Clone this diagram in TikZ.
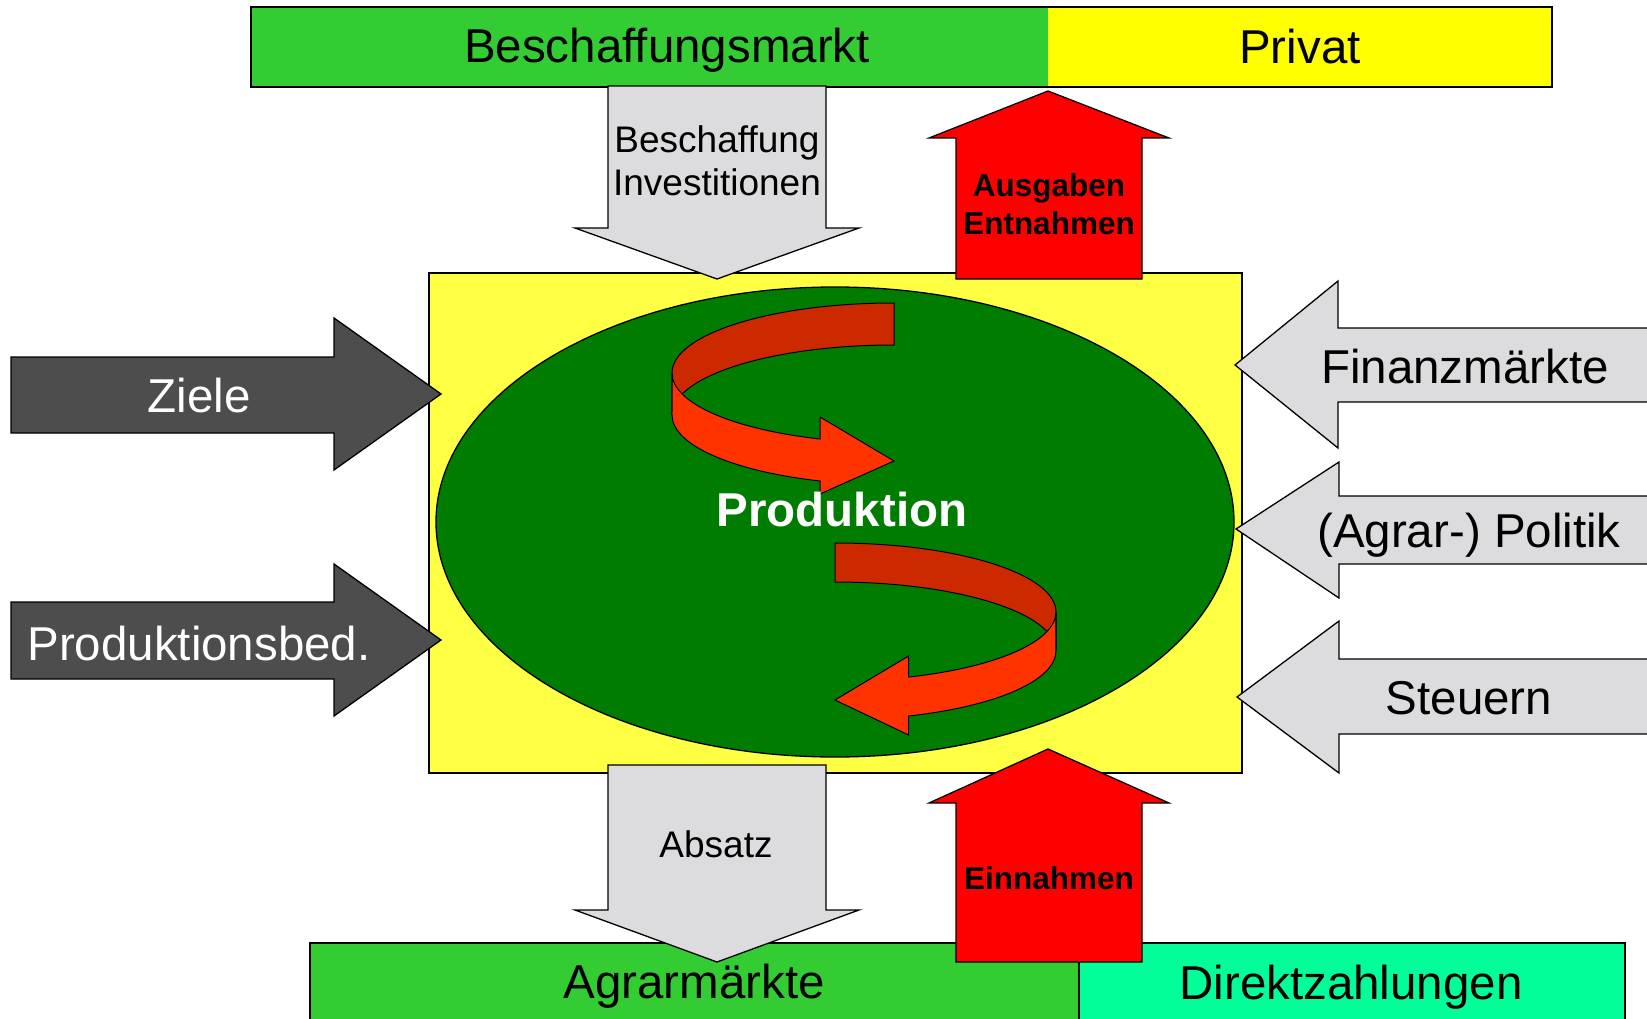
\documentclass[tikz,border=0pt]{standalone}
\usepackage{fontspec}
\setmainfont{Liberation Sans}
\definecolor{barGreen}{RGB}{51,204,51}
\definecolor{barYellow}{RGB}{255,255,0}
\definecolor{aqua}{RGB}{0,255,153}
\definecolor{boxYellow}{RGB}{255,255,68}
\definecolor{ovalGreen}{RGB}{0,125,0}
\definecolor{arrowGray}{RGB}{220,220,222}
\definecolor{darkGray}{RGB}{77,77,77}
\definecolor{ribbonBack}{RGB}{204,41,0}
\definecolor{ribbonFront}{RGB}{255,51,0}
\tikzset{
  outl/.style={draw=black, line width=1.3pt, line join=miter},
  grayarrow/.style={outl, fill=arrowGray},
  redarrow/.style={outl, fill=red},
  darkarrow/.style={outl, fill=darkGray},
  bigtxt/.style={font=\fontsize{47.5}{50}\selectfont, anchor=base, inner sep=0pt},
  midtxt/.style={font=\fontsize{37}{44}\selectfont, anchor=base, inner sep=0pt},
  boldtxt/.style={font=\fontsize{31.5}{38}\selectfont\bfseries, anchor=base, inner sep=0pt},
}
\begin{document}
\begin{tikzpicture}[x=1pt,y=-1pt]
\useasboundingbox (0,0) rectangle (1647,1019);
\clip (0,0) rectangle (1647,1019);
\fill[white] (0,0) rectangle (1647,1019);

% top bar
\fill[barGreen] (251,7) rectangle (1048,87);
\fill[barYellow] (1048,7) rectangle (1552,87);
\draw[outl] (251,7) rectangle (1552,87);
\node[bigtxt] (bm) at (667,63) {Beschaffungsmarkt};
\node[bigtxt] (pv) at (1300,64) {Privat};

% bottom bar
\fill[barGreen] (310,943) rectangle (1079,1030);
\fill[aqua] (1079,943) rectangle (1625,1030);
\draw[outl] (310,943) rectangle (1625,1030);
\draw[outl] (1079,943) -- (1079,1030);
\node[bigtxt] (am) at (694,998) {Agrarmärkte};
\node[bigtxt] (dz) at (1351,999) {Direktzahlungen};

% central box and oval
\draw[outl, fill=boxYellow] (429,273) rectangle (1242,773);
\draw[outl, fill=ovalGreen] (835,522) ellipse [x radius=399pt, y radius=235pt];

% upper ribbon
\draw[outl, line width=1pt, fill=ribbonBack]
  (894,303) arc[start angle=90, end angle=180, x radius=222pt, y radius=70pt]
  -- (672,415) arc[start angle=180, end angle=90, x radius=222pt, y radius=70pt]
  -- cycle;
\draw[outl, line width=1pt, fill=ribbonFront]
  (672,373) arc[start angle=180, end angle=250.53, x radius=222pt, y radius=70pt]
  -- (820,417) -- (894,461) -- (820,494) -- (820,481)
  arc[start angle=250.53, end angle=180, x radius=222pt, y radius=70pt]
  -- cycle;

% lower ribbon
\draw[outl, line width=1pt, fill=ribbonBack]
  (835,543) arc[start angle=90, end angle=0, x radius=221pt, y radius=69pt]
  -- (1056,651) arc[start angle=0, end angle=90, x radius=221pt, y radius=69pt]
  -- cycle;
\draw[outl, line width=1pt, fill=ribbonFront]
  (1056,612) arc[start angle=360, end angle=289.47, x radius=221pt, y radius=69pt]
  -- (908.6,656) -- (835,700) -- (908.6,735) -- (908.6,716)
  arc[start angle=289.47, end angle=360, x radius=221pt, y radius=69pt]
  -- cycle;

\node[font=\fontsize{47.5}{50}\selectfont\bfseries, anchor=base, inner sep=0pt, text=white] (prod) at (842,526) {Produktion};

% top arrows
\draw[grayarrow] (608,86) -- (826,86) -- (826,228) -- (859,228) -- (717,279) -- (575,228) -- (608,228) -- cycle;
\node[midtxt] (bs) at (717,153) {Beschaffung};
\node[midtxt] (inv) at (717,196) {Investitionen};

\draw[redarrow] (956,279) -- (956,138) -- (929,138) -- (1048,91) -- (1169,138) -- (1142,138) -- (1142,279) -- cycle;
\node[boldtxt] (aus) at (1049,197) {Ausgaben};
\node[boldtxt] (ent) at (1049,235) {Entnahmen};

% bottom arrows
\draw[grayarrow] (608,765) -- (826,765) -- (826,910) -- (859,910) -- (717,962) -- (575,910) -- (608,910) -- cycle;
\node[midtxt] (abs) at (716,857) {Absatz};

\draw[redarrow] (956,962) -- (956,803) -- (929,803) -- (1048,749) -- (1169,803) -- (1142,803) -- (1142,962) -- cycle;
\node[boldtxt] (ein) at (1049,889) {Einnahmen};

% left arrows
\draw[darkarrow] (11,357) -- (334,357) -- (334,318) -- (441,394) -- (334,470) -- (334,433) -- (11,433) -- cycle;
\node[bigtxt, text=white] (zi) at (199,412) {Ziele};
\draw[darkarrow] (11,602) -- (334,602) -- (334,564) -- (441,640) -- (334,716) -- (334,679) -- (11,679) -- cycle;
\node[bigtxt, text=white] (pb) at (199,660) {Produktionsbed.};

% right arrows
\draw[grayarrow] (1660,328) -- (1338,328) -- (1338,281) -- (1235,365) -- (1338,448) -- (1338,402) -- (1660,402) -- cycle;
\node[bigtxt] (fm) at (1465,383) {Finanzmärkte};
\draw[grayarrow] (1660,496) -- (1339,496) -- (1339,462) -- (1236,529) -- (1339,598) -- (1339,564) -- (1660,564) -- cycle;
\node[bigtxt] (ap) at (1469,547) {(Agrar-) Politik};
\draw[grayarrow] (1660,659) -- (1339,659) -- (1339,621) -- (1237,697) -- (1339,773) -- (1339,734) -- (1660,734) -- cycle;
\node[bigtxt] (st) at (1469,714) {Steuern};
\end{tikzpicture}
\end{document}
